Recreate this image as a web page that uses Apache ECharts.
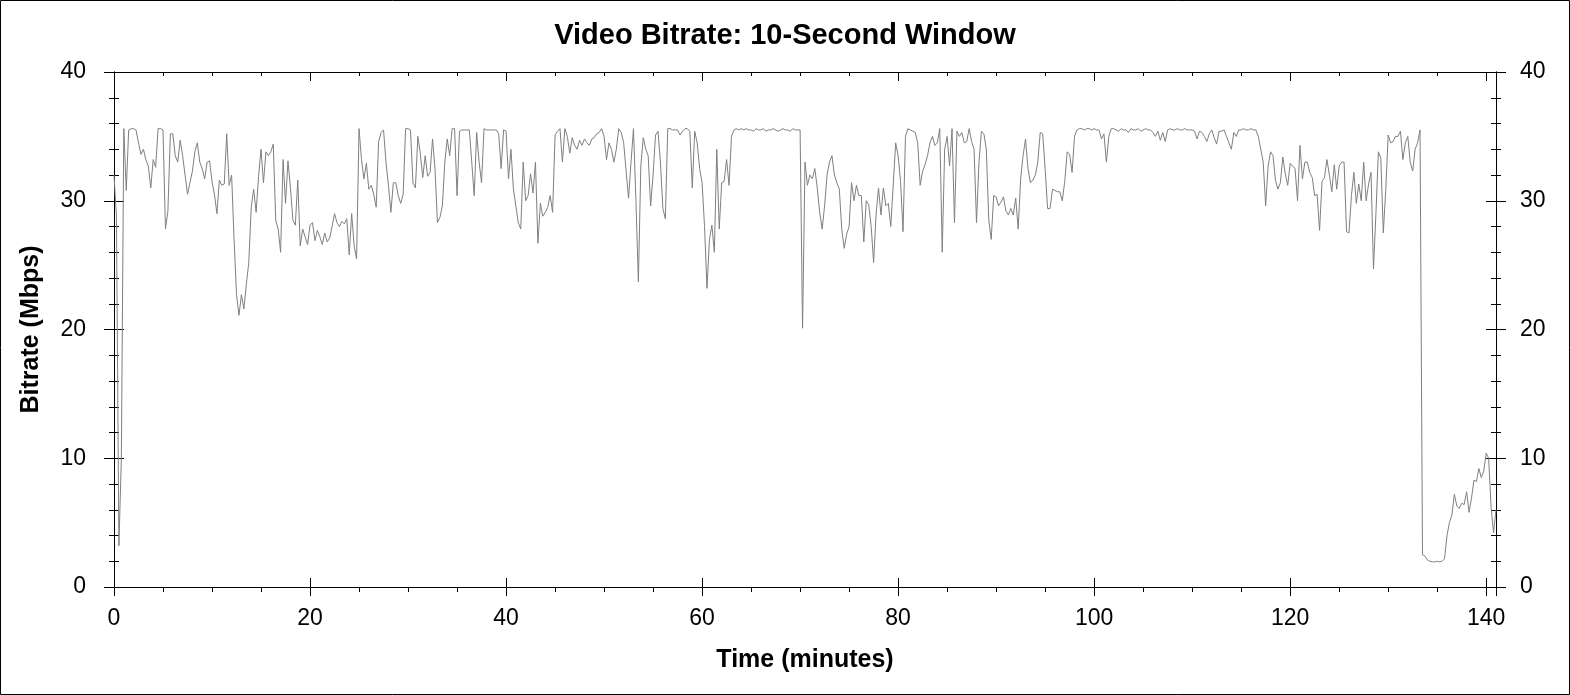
<!DOCTYPE html>
<html>
<head>
<meta charset="utf-8">
<title>Video Bitrate: 10-Second Window</title>
<script src="https://cdn.jsdelivr.net/npm/echarts@6/dist/echarts.min.js"></script>
<style>
    html, body { margin: 0; padding: 0; background: #fff; }
    #chart { width: 1570px; height: 695px; }
</style>
</head>
<body>
<div id="chart"></div>
<script>
// one sample every 15 seconds, first sample at minute 0
const sampleStep = 0.25;

// bitrate in Mbps, 0 - 19.75 min
const rate00 = [
    32.0, 28.8, 3.2, 10.0, 35.6, 30.8, 35.5, 35.6, 35.6, 35.5, 34.5, 33.6, 34.0, 33.2, 32.7, 31.0, 33.2, 32.6, 35.6, 35.6,
    35.5, 27.8, 29.2, 35.2, 35.2, 33.5, 33.0, 34.7, 33.5, 32.0, 30.5, 31.4, 32.3, 33.8, 34.5, 33.0, 32.5, 31.7, 33.0, 33.1,
    31.5, 30.5, 29.0, 31.6, 31.2, 31.3, 35.2, 31.2, 32.0, 27.0, 22.7, 21.1, 22.7, 21.6, 23.5, 25.2, 29.5, 30.9, 29.1, 31.9,
    34.0, 31.4, 33.8, 33.5, 33.8, 34.4, 28.5, 27.8, 26.0, 33.2, 29.8, 33.1, 31.0, 28.5, 28.1, 31.6, 26.5, 27.8, 27.2, 26.6
];
// 20 - 39.75 min
const rate20 = [
    28.1, 28.3, 26.9, 27.7, 27.2, 26.6, 27.5, 26.8, 27.1, 28.0, 29.0, 28.3, 28.0, 28.4, 28.2, 28.6, 25.8, 29.0, 26.5, 25.5,
    35.6, 33.2, 31.7, 32.9, 30.9, 31.2, 30.5, 29.5, 34.6, 35.3, 35.5, 33.0, 31.2, 29.1, 31.4, 31.4, 30.4, 29.8, 30.5, 35.6,
    35.6, 35.5, 31.4, 31.0, 35.0, 33.7, 31.8, 33.5, 31.9, 32.2, 34.8, 32.5, 28.3, 28.7, 29.6, 33.0, 34.8, 33.5, 35.6, 35.6,
    30.4, 35.4, 35.5, 35.5, 35.5, 35.5, 33.0, 30.4, 35.3, 33.0, 31.4, 35.6, 35.5, 35.5, 35.5, 35.5, 35.5, 35.2, 32.5, 35.5
];
// 40 - 59.75 min
const rate40 = [
    35.4, 31.7, 34.0, 30.9, 29.6, 28.3, 27.8, 33.0, 30.0, 30.4, 32.1, 30.6, 33.0, 26.7, 29.8, 28.8, 29.1, 29.5, 30.4, 29.1,
    35.1, 35.4, 35.6, 33.0, 35.6, 35.0, 33.7, 34.9, 34.3, 34.0, 34.7, 34.3, 34.8, 34.5, 34.3, 34.8, 34.9, 35.2, 35.3, 35.6,
    35.0, 33.2, 34.5, 34.0, 33.0, 34.0, 35.6, 35.3, 34.5, 32.3, 30.2, 33.0, 35.6, 30.0, 23.7, 32.7, 34.9, 34.0, 33.5, 29.6,
    32.0, 35.1, 35.4, 33.0, 29.4, 28.6, 35.6, 35.6, 35.5, 35.5, 35.5, 35.1, 35.4, 35.6, 35.6, 35.4, 31.0, 35.4, 34.5, 32.5
];
// 60 - 79.75 min
const rate60 = [
    31.4, 28.0, 23.2, 27.0, 28.1, 26.0, 34.0, 27.8, 31.4, 31.5, 33.2, 31.2, 35.0, 35.5, 35.6, 35.5, 35.6, 35.5, 35.6, 35.5,
    35.5, 35.4, 35.6, 35.5, 35.5, 35.6, 35.4, 35.5, 35.5, 35.6, 35.5, 35.4, 35.5, 35.6, 35.5, 35.5, 35.4, 35.6, 35.5, 35.5,
    35.5, 20.1, 33.0, 31.2, 32.0, 31.7, 32.5, 31.0, 29.1, 27.8, 29.6, 32.0, 33.0, 33.5, 32.0, 31.4, 30.9, 27.8, 26.3, 27.4,
    28.0, 31.4, 30.0, 31.2, 30.4, 30.4, 26.8, 30.0, 29.7, 28.0, 25.2, 28.9, 31.0, 28.9, 31.0, 29.6, 29.8, 28.0, 31.2, 34.5
];
// 80 - 99.75 min
const rate80 = [
    33.5, 31.5, 27.6, 35.0, 35.6, 35.5, 35.4, 35.3, 34.5, 31.2, 32.3, 32.8, 33.5, 34.5, 35.0, 34.3, 34.5, 35.6, 26.0, 34.0,
    35.0, 32.7, 35.6, 28.3, 35.4, 35.0, 35.3, 34.5, 34.6, 35.6, 34.6, 34.0, 28.3, 33.0, 35.4, 35.2, 34.0, 28.5, 27.0, 30.4,
    30.3, 29.6, 29.9, 30.3, 29.2, 28.9, 29.4, 28.9, 30.2, 27.8, 31.7, 33.5, 34.8, 32.5, 31.4, 31.6, 32.0, 33.0, 35.3, 35.2,
    32.5, 29.4, 29.4, 30.9, 30.8, 30.7, 30.7, 30.0, 31.5, 33.8, 33.6, 32.2, 35.0, 35.5, 35.6, 35.6, 35.5, 35.6, 35.6, 35.5
];
// 100 - 119.75 min
const rate100 = [
    35.6, 35.5, 35.5, 34.8, 35.2, 33.0, 35.0, 35.6, 35.6, 35.5, 35.4, 35.6, 35.5, 35.5, 35.3, 35.6, 35.5, 35.5, 35.6, 35.4,
    35.5, 35.6, 35.5, 35.5, 35.3, 35.0, 35.4, 34.7, 35.3, 34.6, 35.5, 35.6, 35.5, 35.5, 35.6, 35.5, 35.5, 35.6, 35.5, 35.5,
    35.5, 35.4, 34.8, 35.4, 35.3, 35.0, 34.6, 35.2, 35.5, 34.9, 34.4, 35.4, 35.4, 35.5, 35.0, 34.5, 34.0, 35.3, 35.0, 35.5,
    35.5, 35.6, 35.5, 35.5, 35.6, 35.5, 35.5, 35.0, 34.0, 33.0, 29.6, 32.7, 33.8, 33.5, 31.6, 30.9, 31.4, 33.4, 32.1, 31.2
];
// 120 - 141 min
const rate120 = [
    32.9, 32.7, 32.5, 30.0, 34.3, 31.7, 33.0, 33.0, 32.2, 31.8, 30.4, 30.5, 27.7, 31.5, 31.8, 33.2, 32.0, 30.7, 32.8, 30.9,
    32.7, 33.0, 33.0, 27.6, 27.5, 30.4, 32.2, 29.8, 31.3, 30.0, 33.0, 30.0, 31.3, 32.2, 24.7, 29.0, 33.8, 33.3, 27.5, 30.8,
    35.1, 34.5, 34.6, 35.0, 35.0, 35.4, 33.2, 34.5, 35.0, 33.0, 32.3, 34.0, 34.5, 35.5, 2.5, 2.4, 2.1, 2.0, 1.95, 1.95,
    2.0, 1.95, 2.0, 2.2, 4.0, 5.0, 5.6, 7.2, 6.3, 6.1, 6.5, 6.4, 7.4, 5.8, 6.9, 8.3, 8.2, 9.2, 8.5, 9.0,
    10.4, 10.0, 6.2, 4.2, 6.0
];

// axis ranges and tick steps
const timeRange = [0, 141];
const timeMajor = 20;
const timeMinor = 5;
const rateRange = [0, 40];
const rateMajor = 10;

const FONT = '"Liberation Sans", Arial, sans-serif';
const INK = '#000';

let bitrate = [].concat(rate00, rate20, rate40, rate60, rate80, rate100, rate120);
let points = bitrate.map(function (v, i) {
    return [i * sampleStep, v];
});

function tickStyle(show, inside, length) {
    return {show: show, inside: inside, length: length, lineStyle: {color: INK, width: 1}};
}

function makeXAxis(position, interval, inside, length, opt) {
    return Object.assign({
        type: 'value',
        position: position,
        min: timeRange[0],
        max: timeRange[1],
        interval: interval,
        axisLine: {show: true, onZero: false, lineStyle: {color: INK, width: 1}},
        axisTick: tickStyle(true, inside, length),
        axisLabel: {show: false},
        splitLine: {show: false}
    }, opt || {});
}

function makeYAxis(position, inside, opt) {
    return Object.assign({
        type: 'value',
        position: position,
        min: rateRange[0],
        max: rateRange[1],
        interval: rateMajor,
        axisLine: {show: true, onZero: false, lineStyle: {color: INK, width: 1}},
        axisTick: tickStyle(true, inside, 10),
        minorTick: {show: true, splitNumber: 5, length: 5, lineStyle: {color: INK, width: 1}},
        axisLabel: {show: false},
        splitLine: {show: false}
    }, opt || {});
}

let labelStyle = {show: true, fontSize: 23, color: INK, fontFamily: FONT};
let nameStyle = {fontSize: 25, fontWeight: 'bold', color: INK, fontFamily: FONT};

let chart = echarts.init(document.getElementById('chart'), null, {renderer: 'canvas'});

chart.setOption({
    animation: false,
    backgroundColor: '#fff',
    title: {
        text: 'Video Bitrate: 10-Second Window',
        left: 'center',
        top: 16,
        textStyle: {fontSize: 29, fontWeight: 'bold', color: INK, fontFamily: FONT}
    },
    grid: {left: 114, right: 74, top: 72, bottom: 108, containLabel: false, outerBoundsMode: 'none'},
    // frame round the whole picture
    graphic: [{
        type: 'rect',
        silent: true,
        shape: {x: 0.5, y: 0.5, width: 1569, height: 694},
        style: {fill: null, stroke: INK, lineWidth: 1}
    }],
    xAxis: [
        makeXAxis('bottom', timeMajor, false, 9, {
            name: 'Time (minutes)',
            nameLocation: 'middle',
            nameGap: 61,
            nameTextStyle: nameStyle,
            axisLabel: Object.assign({}, labelStyle, {
                margin: 20,
                formatter: function (v) {
                    return v % timeMajor === 0 ? String(v) : '';
                }
            })
        }),
        makeXAxis('bottom', timeMajor, true, 9),
        makeXAxis('bottom', timeMinor, false, 5),
        makeXAxis('top', timeMajor, true, 9),
        makeXAxis('top', timeMinor, true, 4)
    ],
    yAxis: [
        makeYAxis('left', false, {
            name: 'Bitrate (Mbps)',
            nameLocation: 'middle',
            nameGap: 70,
            nameTextStyle: nameStyle,
            axisLabel: Object.assign({}, labelStyle, {margin: 28})
        }),
        makeYAxis('left', true),
        makeYAxis('right', false, {
            axisLabel: Object.assign({}, labelStyle, {margin: 24})
        }),
        makeYAxis('right', true)
    ],
    series: [{
        type: 'line',
        name: 'Video Bitrate',
        xAxisIndex: 0,
        yAxisIndex: 0,
        data: points,
        symbol: 'none',
        showSymbol: false,
        sampling: null,
        silent: true,
        lineStyle: {color: '#808080', width: 1}
    }]
});
</script>
</body>
</html>
